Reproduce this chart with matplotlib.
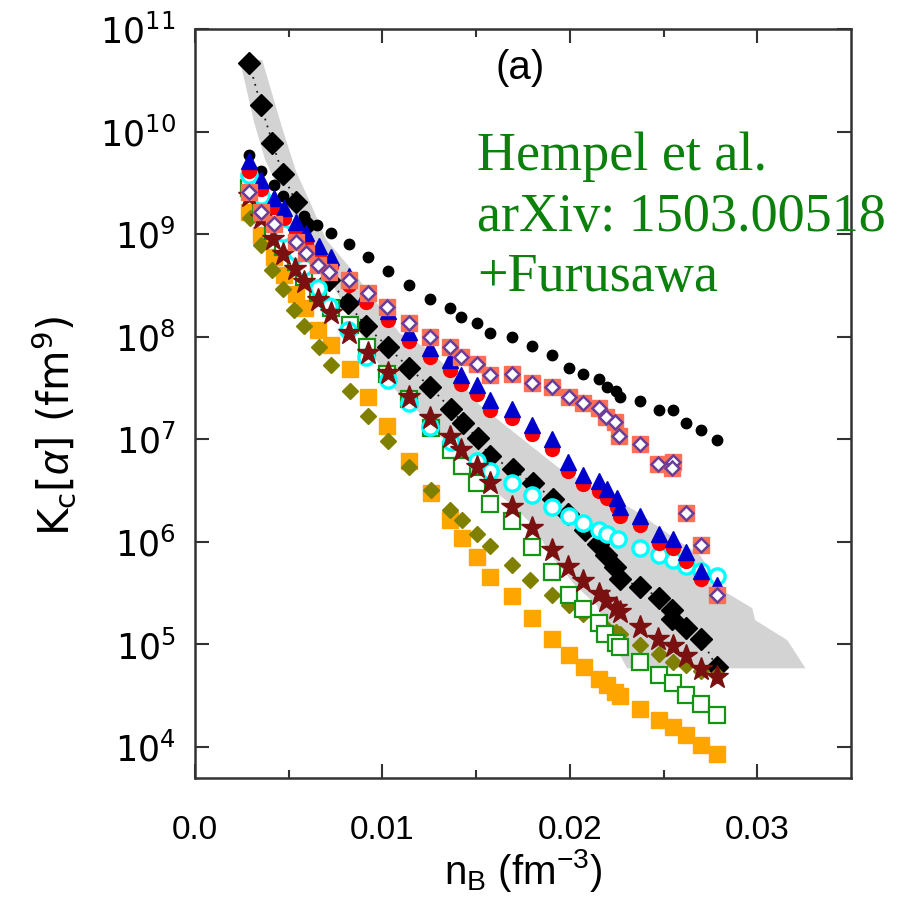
import numpy as np
import matplotlib
matplotlib.use("Agg")
import matplotlib.pyplot as plt
from matplotlib.ticker import NullLocator, NullFormatter, FixedLocator, LogFormatterSciNotation

plt.rcParams['font.family'] = ['Liberation Sans', 'DejaVu Sans']
plt.rcParams['mathtext.fontset'] = 'custom'
plt.rcParams['mathtext.rm'] = 'Liberation Sans'
plt.rcParams['mathtext.it'] = 'Liberation Sans:italic'
plt.rcParams['mathtext.bf'] = 'Liberation Sans:bold'

# ---- data: baryon density n_B (fm^-3) and log10 of K_c[alpha] (fm^9) ----
black_circ_x = [0.00289, 0.00351, 0.00419, 0.00467, 0.00583, 0.00649, 0.00726, 0.00824, 0.00921, 0.01028,
                0.01144, 0.01255, 0.01362, 0.01417, 0.01504, 0.01572, 0.01691, 0.01798, 0.01905, 0.01996,
                0.02068, 0.02157, 0.02196, 0.02246, 0.02267, 0.02374, 0.02476, 0.02549, 0.02620, 0.02701, 0.02784]
black_circ_lg = [9.773, 9.620, 9.477, 9.376, 9.180, 9.090, 9.009, 8.901, 8.775, 8.641,
                 8.500, 8.368, 8.277, 8.192, 8.131, 8.033, 8.000, 7.909, 7.821, 7.692,
                 7.633, 7.584, 7.512, 7.473, 7.409, 7.376, 7.285, 7.285, 7.161, 7.090, 6.992]

black_dia_x = [0.00289, 0.00351, 0.00413, 0.00467, 0.00539, 0.00592, 0.00717, 0.00814, 0.00913, 0.01028,
               0.01144, 0.01255, 0.01367, 0.01429, 0.01510, 0.01572, 0.01697, 0.01801, 0.01911, 0.01990,
               0.02080, 0.02151, 0.02193, 0.02241, 0.02267, 0.02374, 0.02478, 0.02544, 0.02544, 0.02620,
               0.02699, 0.02784]
black_dia_lg = [10.667, 10.260, 9.893, 9.587, 9.311, 9.090, 8.553, 8.326, 8.104, 7.902,
                7.692, 7.512, 7.292, 7.155, 7.009, 6.836, 6.709, 6.570, 6.423, 6.270,
                6.115, 5.984, 5.877, 5.756, 5.643, 5.561, 5.457, 5.341, 5.253, 5.165,
                5.058, 4.780]

rb_x = [0.00289, 0.00351, 0.00419, 0.00476, 0.00539, 0.00592, 0.00659, 0.00726, 0.00824, 0.00913,
        0.01028, 0.01144, 0.01255, 0.01362, 0.01420, 0.01504, 0.01572, 0.01691, 0.01798, 0.01905,
        0.01991, 0.02071, 0.02157, 0.02196, 0.02249, 0.02267, 0.02374, 0.02474, 0.02549, 0.02620,
        0.02699, 0.02784]
red_lg = [9.62, 9.44, 9.26, 9.16, 9.03, 8.92, 8.79, 8.69, 8.50, 8.34,
          8.16, 7.96, 7.80, 7.68, 7.54, 7.44, 7.29, 7.21, 7.05, 6.91,
          6.69, 6.56, 6.50, 6.43, 6.34, 6.25, 6.16, 5.99, 5.94, 5.81,
          5.64, 5.49]
blue_lg = [9.71, 9.53, 9.35, 9.25, 9.12, 9.01, 8.88, 8.78, 8.59, 8.43,
           8.25, 8.05, 7.89, 7.77, 7.63, 7.53, 7.38, 7.30, 7.14, 7.00,
           6.78, 6.65, 6.59, 6.52, 6.43, 6.34, 6.25, 6.08, 6.03, 5.90,
           5.72, 5.58]

sp_x = [0.00289, 0.00351, 0.00419, 0.00539, 0.00592, 0.00654, 0.00717, 0.00824, 0.00921, 0.01026,
        0.01144, 0.01255, 0.01362, 0.01420, 0.01504, 0.01572, 0.01691, 0.01798, 0.01905, 0.01996,
        0.02068, 0.02157, 0.02194, 0.02243, 0.02262, 0.02372, 0.02472, 0.02549, 0.02544, 0.02620,
        0.02701, 0.02784]
sp_lg = [9.41, 9.22, 9.10, 8.923, 8.814, 8.700, 8.634, 8.548, 8.423, 8.293,
         8.134, 7.997, 7.902, 7.799, 7.731, 7.626, 7.636, 7.551, 7.512, 7.415,
         7.350, 7.301, 7.221, 7.166, 7.028, 6.953, 6.758, 6.775, 6.722, 6.283,
         5.973, 5.480]

cyan_x = [0.00289, 0.00351, 0.00416, 0.00467, 0.00539, 0.00583, 0.00654, 0.00717, 0.00814, 0.00913,
          0.01028, 0.01144, 0.01255, 0.01367, 0.01503, 0.01572, 0.01691, 0.01798, 0.01905, 0.01996,
          0.02068, 0.02155, 0.02196, 0.02258, 0.02374, 0.02476, 0.02549, 0.02620, 0.02699, 0.02784]
cyan_lg = [9.580, 9.373, 9.155, 9.009, 8.829, 8.683, 8.472, 8.300, 8.065, 7.805,
           7.578, 7.353, 7.122, 6.976, 6.792, 6.690, 6.570, 6.456, 6.341, 6.251,
           6.180, 6.114, 6.078, 6.033, 5.936, 5.870, 5.821, 5.763, 5.717, 5.665]

star_x = [0.00289, 0.00351, 0.00417, 0.00467, 0.00534, 0.00583, 0.00658, 0.00726, 0.00824, 0.00921,
          0.01028, 0.01144, 0.01255, 0.01362, 0.01420, 0.01504, 0.01572, 0.01691, 0.01798, 0.01905,
          0.01991, 0.02071, 0.02153, 0.02191, 0.02245, 0.02265, 0.02374, 0.02472, 0.02549, 0.02620,
          0.02699, 0.02784]
star_lg = [9.373, 9.155, 8.953, 8.807, 8.660, 8.529, 8.358, 8.228, 8.033, 7.838,
           7.643, 7.415, 7.204, 7.024, 6.895, 6.732, 6.570, 6.341, 6.131, 5.919,
           5.756, 5.617, 5.490, 5.422, 5.358, 5.317, 5.171, 5.058, 4.983, 4.885,
           4.765, 4.683]

green_x = [0.00289, 0.00351, 0.00417, 0.00467, 0.00537, 0.00583, 0.00654, 0.00726, 0.00826, 0.00917,
           0.01026, 0.01144, 0.01260, 0.01367, 0.01423, 0.01505, 0.01572, 0.01690, 0.01798, 0.01905,
           0.01996, 0.02071, 0.02154, 0.02190, 0.02245, 0.02265, 0.02374, 0.02476, 0.02549, 0.02620,
           0.02699, 0.02784]
green_lg = [9.451, 9.217, 9.031, 8.878, 8.729, 8.585, 8.423, 8.277, 8.114, 7.902,
            7.636, 7.392, 7.106, 6.895, 6.739, 6.570, 6.368, 6.200, 5.951, 5.707,
            5.480, 5.343, 5.212, 5.106, 5.017, 4.976, 4.829, 4.700, 4.624, 4.503,
            4.423, 4.309]

olive_x = [0.00293, 0.00351, 0.00413, 0.00467, 0.00529, 0.00583, 0.00660, 0.00726, 0.00825, 0.00923,
           0.01028, 0.01142, 0.01258, 0.01362, 0.01423, 0.01505, 0.01572, 0.01690, 0.01786, 0.01905,
           0.01996, 0.02071, 0.02155, 0.02196, 0.02246, 0.02265, 0.02374, 0.02476, 0.02549, 0.02620,
           0.02699, 0.02784]
olive_lg = [9.155, 8.895, 8.651, 8.462, 8.263, 8.109, 7.895, 7.724, 7.468, 7.223,
            6.985, 6.732, 6.504, 6.313, 6.212, 6.073, 5.958, 5.772, 5.628, 5.480,
            5.382, 5.295, 5.204, 5.155, 5.122, 5.106, 4.993, 4.911, 4.829, 4.797,
            4.741, 4.699]

orange_x = [0.00289, 0.00351, 0.00420, 0.00474, 0.00537, 0.00588, 0.00656, 0.00726, 0.00825, 0.00923,
            0.01026, 0.01142, 0.01258, 0.01362, 0.01423, 0.01505, 0.01572, 0.01690, 0.01798, 0.01905,
            0.01996, 0.02075, 0.02154, 0.02196, 0.02241, 0.02267, 0.02374, 0.02476, 0.02549, 0.02620,
            0.02699, 0.02784]
orange_lg = [9.220, 8.992, 8.773, 8.597, 8.420, 8.277, 8.067, 7.919, 7.682, 7.415,
             7.129, 6.785, 6.472, 6.212, 6.038, 5.851, 5.662, 5.475, 5.259, 5.058,
             4.895, 4.781, 4.667, 4.610, 4.537, 4.495, 4.375, 4.261, 4.195, 4.114,
             4.016, 3.936]

# outline of the shaded model band (closed loop)
band_x = [0.00241, 0.00358, 0.00465, 0.00540, 0.00620, 0.00700, 0.00824, 0.00957, 0.01091, 0.01251,
          0.01385, 0.01519, 0.01754, 0.01936, 0.02118, 0.02353, 0.02535, 0.02695, 0.02813, 0.02973,
          0.02989, 0.03160, 0.03257, 0.02305, 0.02225, 0.02144, 0.02027, 0.01920, 0.01786, 0.01679,
          0.01588, 0.01465, 0.01342, 0.01198, 0.01053, 0.00807, 0.00663, 0.00556, 0.00449, 0.00374,
          0.00316]
band_lg = [10.68, 10.70, 10.036, 9.607, 9.285, 8.945, 8.680, 8.358, 8.036, 7.870,
           7.626, 7.334, 6.992, 6.729, 6.533, 6.299, 6.065, 5.870, 5.529, 5.354,
           5.237, 5.042, 4.768, 4.768, 5.041, 5.382, 5.578, 5.821, 6.192, 6.378,
           6.505, 6.700, 6.963, 7.256, 7.510, 8.261, 8.749, 9.090, 9.431, 9.724,
           10.085]

x_ticks = [0.0, 0.01, 0.02, 0.03]
x_ticklabels = ['0.0', '0.01', '0.02', '0.03']
x_minor = [0.005, 0.015, 0.025]
y_ticks = [1e4, 1e5, 1e6, 1e7, 1e8, 1e9, 1e10, 1e11]


def k(lg):
    return np.power(10.0, np.asarray(lg))


fig = plt.figure(figsize=(9.02, 9.13), dpi=100)
ax = fig.add_axes([0.2162, 0.1479, 0.7273, 0.8204])
ax.set_yscale('log')
ax.set_xlim(0.0, 0.035)
ax.set_ylim(5e3, 1e11)

ax.fill(band_x, k(band_lg), color='#d3d3d3', lw=0, zorder=1)

ax.plot(black_dia_x, k(black_dia_lg), ls=(0, (1, 3)), color='#222222', lw=1.3, zorder=2)
ax.plot(black_dia_x, k(black_dia_lg), 'D', color='black', ms=11, mec='black', zorder=3)
ax.plot(black_circ_x, k(black_circ_lg), 'o', color='black', ms=7.5, zorder=3)
ax.plot(orange_x, k(orange_lg), 's', color='#FFA500', ms=12, mec='#FFA500', zorder=4)
ax.plot(olive_x, k(olive_lg), 'D', color='#808000', ms=8, mec='#808000', zorder=5)
ax.plot(green_x, k(green_lg), 's', mfc='white', mec='#139413', mew=1.6, ms=11, zorder=6)
ax.plot(cyan_x, k(cyan_lg), 'o', mfc='white', mec='#00FFFF', mew=2.4, ms=11, zorder=7)
ax.plot(star_x, k(star_lg), '*', color='#7a1010', ms=17, mec='#7a1010', zorder=8)
ax.plot(rb_x, k(red_lg), 'o', color='#FF0000', ms=10, mec='#FF0000', zorder=9)
ax.plot(rb_x, k(blue_lg), '^', color='#0000CC', ms=11, mec='#0000CC', zorder=10)
ax.plot(sp_x, k(sp_lg), 's', color='#FF6F55', ms=12, mec='#FF6F55', zorder=11)
ax.plot(sp_x, k(sp_lg), 'D', mfc='white', mec='#6A3D9A', mew=1.8, ms=7, zorder=12)

ax.xaxis.set_major_locator(FixedLocator(x_ticks))
ax.xaxis.set_minor_locator(FixedLocator(x_minor))
ax.set_xticklabels(x_ticklabels)
ax.yaxis.set_major_locator(FixedLocator(y_ticks))
ax.yaxis.set_major_formatter(LogFormatterSciNotation(base=10))
ax.yaxis.set_minor_locator(NullLocator())
ax.yaxis.set_minor_formatter(NullFormatter())

ax.tick_params(which='both', direction='in', top=True, right=True, width=1.5, color='#333333')
ax.tick_params(which='major', length=10)
ax.tick_params(which='minor', length=6)
ax.tick_params(axis='x', which='major', labelsize=24, pad=27)
ax.tick_params(axis='y', which='major', labelsize=25, pad=14, labelfontfamily='DejaVu Sans')
for s in ax.spines.values():
    s.set_linewidth(1.8)
    s.set_color('#333333')

ax.set_xlabel(r'n$_\mathdefault{B}$ (fm$^\mathdefault{-3}$)', fontsize=29)
ax.xaxis.set_label_coords(0.5, -0.092)
ax.xaxis.label.set_va('top')
ax.set_ylabel(r'K$_\mathdefault{c}$[$\alpha$] (fm$^\mathdefault{9}$)', fontsize=30,
              family=['DejaVu Sans'])
ax.yaxis.set_label_coords(-0.178, 0.47)

ax.text(0.549, 0.9255, '(a)', transform=fig.transFigure, fontsize=29, va='center', ha='left')

serif = ['Liberation Serif', 'DejaVu Serif']
for ypos, line in [(0.814, 'Hempel et al.'), (0.747, 'arXiv: 1503.00518'), (0.681, '+Furusawa')]:
    fig.text(0.5288, ypos, line, family=serif, fontsize=39, color='#0C800C', va='baseline', ha='left')

fig.savefig('out.png', dpi=100)
